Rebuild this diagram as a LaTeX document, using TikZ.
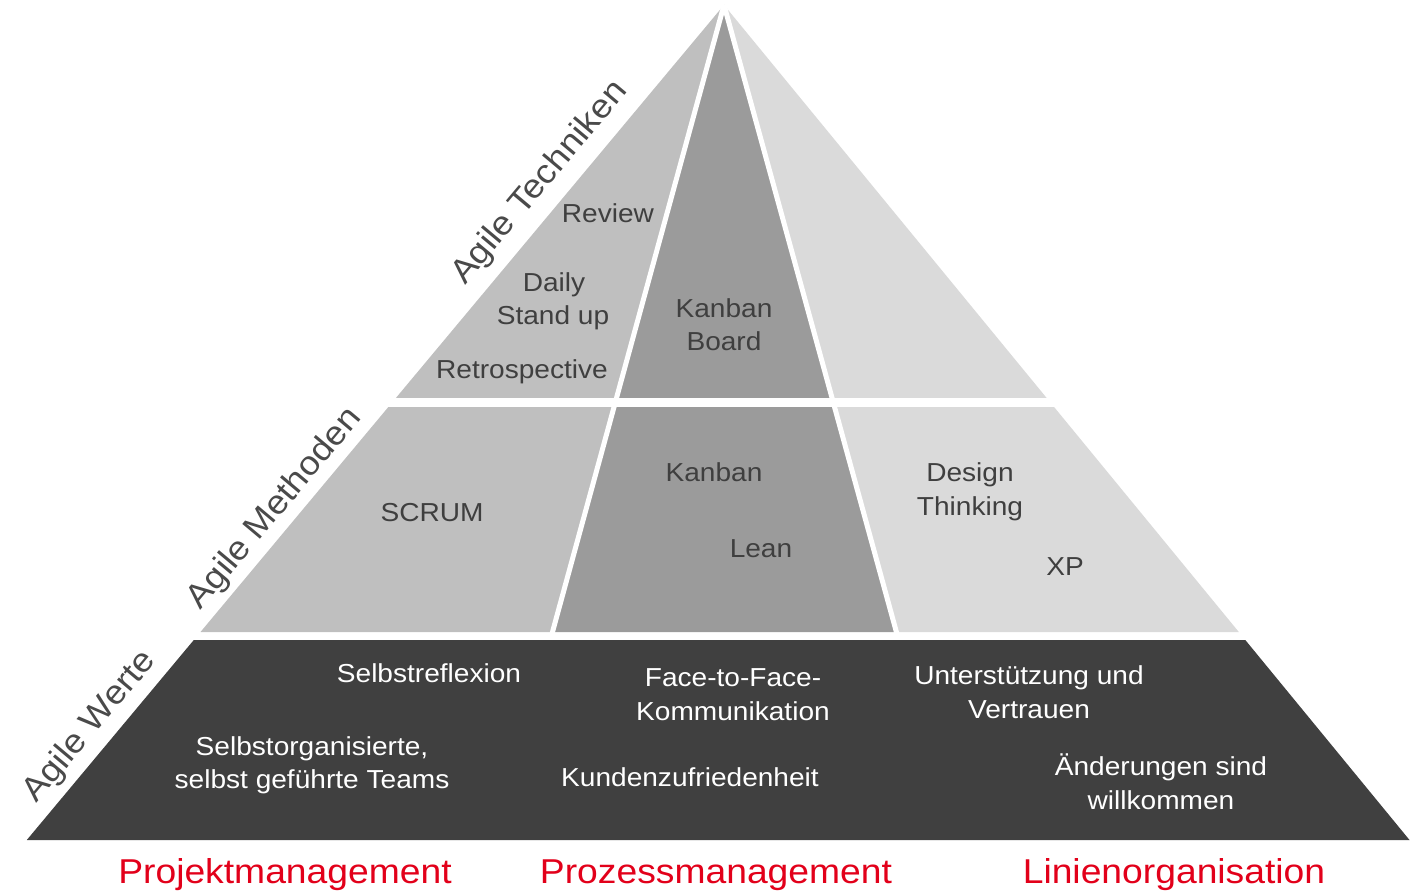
\documentclass[tikz,border=0pt]{standalone}
\usepackage{fontspec}
\setmainfont{Liberation Sans}[FakeStretch=1.08]
\definecolor{lgray}{HTML}{BFBFBF}
\definecolor{mgray}{HTML}{9B9B9B}
\definecolor{rgray}{HTML}{DADADA}
\definecolor{dgray}{HTML}{404040}
\definecolor{txtgray}{HTML}{3F3F3F}
\definecolor{labgray}{HTML}{4A4A4A}
\definecolor{redc}{HTML}{E2001A}
\begin{document}
\begin{tikzpicture}[x=1pt,y=-1pt,
  txt/.style={font=\fontsize{26}{31}\selectfont, text=txtgray, anchor=base, inner sep=0pt},
  wtxt/.style={txt, text=white},
  sidelab/.style={font=\fontsize{33.5}{38}\selectfont, text=labgray, rotate=50, inner sep=0pt, anchor=center},
  redlab/.style={font=\fontsize{34.5}{40}\selectfont, text=redc, anchor=base, inner sep=0pt},
  gap/.style={white, line width=5pt}
]
\useasboundingbox (0,0) rectangle (1417,893);
% coordinates
\coordinate (apex) at (724,5);
\coordinate (l632) at (200.5,632);
\coordinate (d1) at (552.5,632);
\coordinate (d2) at (896.4,632);
\coordinate (r632) at (1238.8,632);
\coordinate (l640) at (193.8,640);
\coordinate (r640) at (1245.3,640);
\coordinate (l840) at (26.8,840);
\coordinate (r840) at (1409.5,840);
\coordinate (d1e) at (551.4,636);
\coordinate (d2e) at (897.5,636);
% pieces
\fill[lgray] (apex) -- (l632) -- (d1) -- cycle;
\fill[mgray] (apex) -- (d1) -- (d2) -- cycle;
\fill[rgray] (apex) -- (d2) -- (r632) -- cycle;
\fill[dgray] (l640) -- (r640) -- (r840) -- (l840) -- cycle;
% gaps
\fill[white] (300,398) rectangle (1150,407);
\draw[gap] (apex) -- (d1e);
\draw[gap] (apex) -- (d2e);
% side labels
\node[sidelab] (lt) at (540,183) {Agile Techniken};
\node[sidelab] (lm) at (275,509) {Agile Methoden};
\node[sidelab] (lw) at (90,727) {Agile Werte};
% top band
\node[txt] (review) at (608,223) {Review};
\node[txt] (daily1) at (554,292) {Daily};
\node[txt] (daily2) at (553,325) {Stand up};
\node[txt] (retro) at (522,378) {Retrospective};
\node[txt] (kb1) at (724,318) {Kanban};
\node[txt] (kb2) at (724,351) {Board};
% middle band
\node[txt] (scrum) at (432,521) {SCRUM};
\node[txt] (kanban) at (714,481) {Kanban};
\node[txt] (lean) at (761,557) {Lean};
\node[txt] (dt1) at (970,481) {Design};
\node[txt] (dt2) at (970,515) {Thinking};
\node[txt] (xp) at (1065,575) {XP};
% bottom band
\node[wtxt] (selbstr) at (429,682) {Selbstreflexion};
\node[wtxt] (so1) at (312,755) {Selbstorganisierte,};
\node[wtxt] (so2) at (312,788) {selbst geführte Teams};
\node[wtxt] (ff1) at (733,686) {Face-to-Face-};
\node[wtxt] (ff2) at (733,720) {Kommunikation};
\node[wtxt] (kz) at (690,786) {Kundenzufriedenheit};
\node[wtxt] (uv1) at (1029,684) {Unterstützung und};
\node[wtxt] (uv2) at (1029,718) {Vertrauen};
\node[wtxt] (aw1) at (1161,775) {Änderungen sind};
\node[wtxt] (aw2) at (1161,809) {willkommen};
% red labels
\node[redlab] (pm) at (285,883) {Projektmanagement};
\node[redlab] (prm) at (716,883) {Prozessmanagement};
\node[redlab] (lo) at (1174,883) {Linienorganisation};
\end{tikzpicture}
\end{document}
